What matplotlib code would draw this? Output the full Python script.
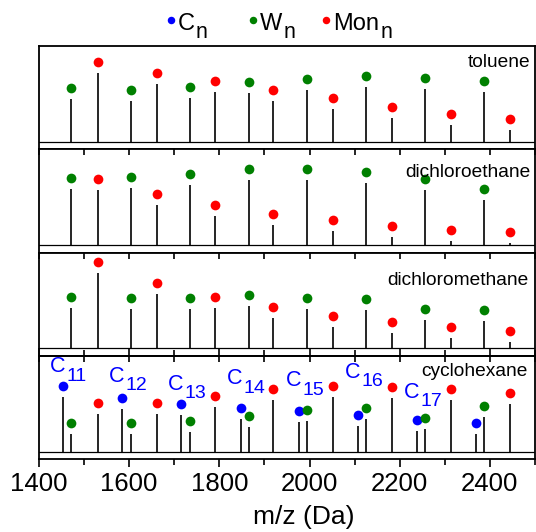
import matplotlib
matplotlib.use("Agg")
import numpy as np
from matplotlib import pyplot as plt
from matplotlib.ticker import MultipleLocator
from matplotlib.transforms import offset_copy

plt.rcParams['font.family'] = ['Liberation Sans', 'DejaVu Sans']

# peak positions (m/z, Da)
w_mz = [1472, 1603, 1734, 1865, 1995, 2126, 2257, 2388]
mon_mz = [1531, 1661, 1790, 1920, 2051, 2183, 2313, 2445]
c_mz = [1453, 1584, 1715, 1847, 1977, 2108, 2239, 2369]

# peak intensities (a.u.) per solvent
toluene_w = [43, 41, 44, 49, 52, 55, 53, 50]
toluene_mon = [69, 58, 50, 41, 33, 24, 17, 12]
dce_w = [56, 57, 60, 65, 65, 62, 55, 45]
dce_mon = [55, 40, 29, 20, 14, 8, 4, 2]
dcm_w = [40, 39, 39, 42, 39, 38, 28, 27]
dcm_mon = [75, 54, 40, 30, 21, 15, 10, 6]
chx_c = [55, 43, 37, 33, 30, 26, 21, 18]
chx_w = [18, 18, 20, 25, 31, 33, 23, 35]
chx_mon = [38, 38, 45, 52, 55, 54, 52, 48]

# C_n labels in the cyclohexane panel
c_label_n = ["11", "12", "13", "14", "15", "16", "17"]
c_label_y = [79, 70, 62, 67, 65, 74, 54]

solvents = ["toluene", "dichloroethane", "dichloromethane", "cyclohexane"]

BLUE, GREEN, RED = "#0000ff", "#008000", "#ff0000"
dot_off = 11

panels = [
    [(w_mz, toluene_w, GREEN), (mon_mz, toluene_mon, RED)],
    [(w_mz, dce_w, GREEN), (mon_mz, dce_mon, RED)],
    [(w_mz, dcm_w, GREEN), (mon_mz, dcm_mon, RED)],
    [(c_mz, chx_c, BLUE), (w_mz, chx_w, GREEN), (mon_mz, chx_mon, RED)],
]
label_pos = [(0.991, 0.794), (0.991, 0.734), (0.986, 0.685), (0.986, 0.807)]

fig = plt.figure(figsize=(5.36, 5.32), dpi=100)
left, right = 39 / 536, 535 / 536
top, bottom = 1 - 46 / 532, 1 - 459 / 532
h = (top - bottom) / 4


def sub_text(x, y, main, sub, transform, color, size, subsize, drop=6, gap=0.8, **kw):
    fig.text(x, y, main, transform=transform, ha="right", va="baseline",
             color=color, fontsize=size, **kw)
    tr = offset_copy(transform, fig=fig, x=gap, y=-drop, units="points")
    fig.text(x, y, sub, transform=tr, ha="left", va="baseline",
             color=color, fontsize=subsize, **kw)


for i, series in enumerate(panels):
    ax = fig.add_axes([left, top - (i + 1) * h, right - left, h])
    ax.axhline(0, color="k", lw=0.9, zorder=1)
    for mz, inten, col in series:
        inten = np.array(inten)
        ax.vlines(mz, 0, inten, color="k", lw=1.2, zorder=2)
        ax.plot(mz, inten + dot_off, "o", color=col, ms=7, mec="none", zorder=3)
    ax.set_xlim(1400, 2500)
    ax.set_ylim(-7.5, 95.75)
    ax.set_yticks([])
    ax.xaxis.set_major_locator(MultipleLocator(200))
    ax.xaxis.set_minor_locator(MultipleLocator(100))
    for s in ax.spines.values():
        s.set_linewidth(1.3)
    last = i == 3
    ax.tick_params(axis="x", which="both", top=(i > 0), bottom=False,
                   direction="in", length=4.5, width=1.2, labelbottom=False)
    if last:
        ax.tick_params(axis="x", which="both", bottom=True, direction="out",
                       labelbottom=True, labelsize=18.5, pad=4)
        ax.tick_params(axis="x", which="major", length=5.5)
        ax.tick_params(axis="x", which="minor", length=4)
        # inward ticks on the top edge of the last panel
        sec = ax.secondary_xaxis("top")
        sec.xaxis.set_major_locator(MultipleLocator(200))
        sec.xaxis.set_minor_locator(MultipleLocator(100))
        sec.tick_params(axis="x", which="both", direction="in", length=4.5,
                        width=1.2, labeltop=False)
        sec.spines["top"].set_linewidth(1.3)
    lx, ly = label_pos[i]
    ax.text(lx, ly, solvents[i], transform=ax.transAxes, ha="right",
            va="baseline", fontsize=13.8)
    if last:
        for mz, n, y in zip(c_mz, c_label_n, c_label_y):
            sub_text(mz + 5, y, "C", n, ax.transData, BLUE, 15.5, 14)

fig.text(304 / 536, 1 - 517 / 532, "m/z (Da)", ha="center", va="center", fontsize=19)

# legend above the top panel
leg = [(170.7, "C", BLUE), (253.3, "W", GREEN), (326, "Mon", RED)]
for x_px, name, col in leg:
    fig.add_artist(plt.Line2D([x_px / 536], [1 - 20 / 532], marker="o", ms=5.4,
                              color=col, mec="none", transform=fig.transFigure))
    tmp = fig.text(0, 0, name, fontsize=17)
    w = tmp.get_window_extent(renderer=fig.canvas.get_renderer()).width
    tmp.remove()
    sub_text((x_px + 7 + w) / 536, 1 - 29.5 / 532, name, "n", fig.transFigure,
             "k", 17, 15.5)

fig.savefig("out.png", dpi=100)
